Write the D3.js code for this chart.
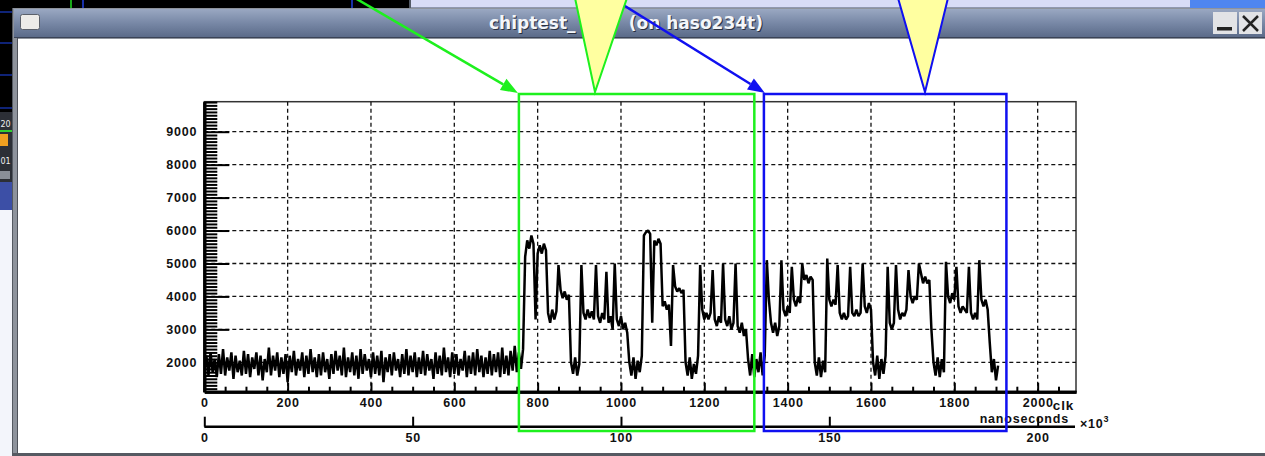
<!DOCTYPE html>
<html>
<head>
<meta charset="utf-8">
<script src="https://cdn.jsdelivr.net/npm/d3@7"></script>
<style>
  body { margin: 0; background: #fff; overflow: hidden; }
  .lbl { font-family: "Liberation Sans", Arial, Helvetica, sans-serif; font-weight: bold; font-size: 12.5px; letter-spacing: 0.8px; fill: #111; }
  .ttl { font-family: "DejaVu Sans", sans-serif; font-weight: bold; font-size: 17px; }
</style>
</head>
<body>
<svg id="plot" width="1265" height="456"></svg>
<script>
// ADC trace, one sample every 5 ns starting at t = 0
var sampleStep = 5;
var adc = [
  1850,2200,1600,2300,1700,2100,1550,2250,1650,2400,
  1600,2150,1750,2300,1500,2200,1700,2050,1600,2350,
  1650,2250,1550,2150,1800,2300,1600,2200,1450,2100,
  1700,2450,1600,2200,1750,2300,1550,2150,1650,2250,
  1400,2200,1700,2350,1600,2100,1750,2300,1550,2200,
  1650,2400,1700,2150,1550,2250,1600,2300,1700,2100,
  1500,2250,1650,2350,1750,2200,1600,2450,1550,2150,
  1700,2300,1600,2200,1500,2400,1650,2250,1750,2100,
  1550,2300,1650,2200,1600,2350,1400,2150,1700,2250,
  1600,2300,1750,2100,1550,2250,1650,2400,1600,2200,
  1700,2300,1550,2150,1650,2350,1600,2250,1750,2100,
  1500,2300,1650,2200,1600,2450,1700,2150,1550,2300,
  1650,2250,1600,2100,1750,2350,1550,2200,1650,2300,
  1600,2400,1700,2200,1550,2150,1650,2350,1600,2250,
  1700,2300,1550,2450,1650,2200,1600,2350,1750,2500,
  1700,
  2300,1800,2400,5200,5700,5450,5850,5600,3300,5300,
  5550,5300,5600,5400,3500,3200,3600,3300,3550,4950,
  4200,3950,4150,3900,4050,2000,1650,2150,1600,1950,
  4950,3500,3300,3600,3350,3550,3300,4950,3400,3200,
  3500,3300,4750,3200,3400,3000,5000,3300,3100,3400,
  3000,3200,2900,2000,1600,2150,1500,2050,1700,2200,
  5850,5950,6000,5900,3200,5700,5550,5750,5600,3700,
  3850,3600,3750,2500,4950,4300,4150,4250,4100,4200,
  2000,1600,2150,1500,1950,1650,2200,4950,3600,3300,
  3500,3300,3500,4800,3300,3100,3400,3200,5000,3300,
  3100,3400,3000,3200,5000,3100,2900,3200,2800,3000,
  2100,1600,2250,1550,2100,1700,2300,1600,2200,5100,
  3900,3200,2900,3200,2800,3100,5100,3600,3400,3700,
  3500,4900,3900,3700,4000,3800,5000,4500,4650,4400,
  4600,4500,2000,1600,2150,1550,2050,1700,5150,3900,
  3700,3900,3750,4950,3500,3300,3500,3300,3400,4900,
  3500,3400,3600,3400,3500,5000,3700,3500,3800,3600,
  2000,1600,2200,1500,2100,1650,2200,4900,3200,3000,
  3200,4950,3600,3300,3500,3400,3600,4800,4000,3800,
  4000,3900,5000,4700,4400,4600,4400,4500,3000,2000,
  1600,2150,1550,2100,1700,5050,4000,3800,4100,3900,
  4900,3700,3500,3700,3600,3500,4900,3500,3300,3500,
  3300,5100,3900,3700,3900,3600,2600,1700,2100,1450,
  1900
];
var yMajor = [2000, 3000, 4000, 5000, 6000, 7000, 8000, 9000];
var xMajor = [0, 200, 400, 600, 800, 1000, 1200, 1400, 1600, 1800, 2000];
var xSecond = [0, 50, 100, 150, 200];
// marked regions (ns)
var greenRange = [755, 1320];
var blueRange = [1343, 1925];

var svg = d3.select("#plot");

// ---- desktop behind the window ----
svg.append("rect").attr("x", 0).attr("y", 0).attr("width", 411).attr("height", 9).attr("fill", "#000");
svg.append("rect").attr("x", 411).attr("y", 0).attr("width", 779).attr("height", 9).attr("fill", "#d8dcf6");
svg.append("rect").attr("x", 1190).attr("y", 0).attr("width", 75).attr("height", 9).attr("fill", "#4f86f0");
svg.append("line").attr("x1", 411).attr("x2", 1190).attr("y1", 7.5).attr("y2", 7.5).attr("stroke", "#9098b0");
[[71, "#20e020"], [83, "#2040e0"], [352, "#2040e0"], [410, "#707888"]].forEach(function(v) {
  svg.append("line").attr("x1", v[0]).attr("x2", v[0]).attr("y1", 0).attr("y2", 8).attr("stroke", v[1]).attr("stroke-width", 1.5);
});

// left panel strip
svg.append("rect").attr("x", 0).attr("y", 0).attr("width", 12).attr("height", 112).attr("fill", "#000");
[12, 43, 75, 108].forEach(function(yy) {
  svg.append("line").attr("x1", 0).attr("x2", 12).attr("y1", yy).attr("y2", yy).attr("stroke", "#1a3cc8").attr("stroke-width", 1.2);
});
svg.append("rect").attr("x", 0).attr("y", 112).attr("width", 12).attr("height", 70).attr("fill", "#2c2f36");
svg.append("line").attr("x1", 0).attr("x2", 12).attr("y1", 131).attr("y2", 131).attr("stroke", "#30d030").attr("stroke-width", 2);
svg.append("rect").attr("x", 0).attr("y", 134).attr("width", 8).attr("height", 12).attr("fill", "#f0a020");
svg.append("rect").attr("x", 0).attr("y", 171).attr("width", 10).attr("height", 8).attr("fill", "#8a8f98");
svg.append("rect").attr("x", 0).attr("y", 182).attr("width", 12).attr("height", 28).attr("fill", "#3c4fa6");
svg.append("rect").attr("x", 0).attr("y", 210).attr("width", 12).attr("height", 246).attr("fill", "#f3f5fb");
svg.append("text").attr("x", 0.5).attr("y", 127)
  .attr("fill", "#eee").style("font-family", "DejaVu Sans").style("font-size", "8px").text("20");
svg.append("text").attr("x", 0.5).attr("y", 164)
  .attr("fill", "#eee").style("font-family", "DejaVu Sans").style("font-size", "8px").text("01");

// ---- window frame ----
svg.append("rect").attr("x", 12).attr("y", 8).attr("width", 1253).attr("height", 448).attr("fill", "#8e939c");
svg.append("line").attr("x1", 12.5).attr("x2", 12.5).attr("y1", 8).attr("y2", 456).attr("stroke", "#555a62");
var grad = svg.append("defs").append("linearGradient").attr("id", "tbar").attr("x1", 0).attr("x2", 0).attr("y1", 0).attr("y2", 1);
grad.append("stop").attr("offset", "0").attr("stop-color", "#9aa8c2");
grad.append("stop").attr("offset", "0.5").attr("stop-color", "#7888a6");
grad.append("stop").attr("offset", "1").attr("stop-color", "#5b6b89");
svg.append("rect").attr("x", 14).attr("y", 9).attr("width", 1251).attr("height", 28).attr("fill", "url(#tbar)");
svg.append("line").attr("x1", 14).attr("x2", 1265).attr("y1", 37.5).attr("y2", 37.5).attr("stroke", "#3a4356");
svg.append("rect").attr("x", 18).attr("y", 39).attr("width", 1247).attr("height", 414).attr("fill", "#fff");
svg.append("line").attr("x1", 17.5).attr("x2", 17.5).attr("y1", 38).attr("y2", 453).attr("stroke", "#4e525a");
svg.append("rect").attr("x", 12).attr("y", 453).attr("width", 1253).attr("height", 3).attr("fill", "#565a62");

// window icon and buttons
svg.append("rect").attr("x", 20.5).attr("y", 14.5).attr("width", 19).attr("height", 15).attr("rx", 2)
  .attr("fill", "#ecebe8").attr("stroke", "#5a606a");
svg.append("rect").attr("x", 1213).attr("y", 12).attr("width", 24).attr("height", 22).attr("fill", "#e2e3e6");
svg.append("rect").attr("x", 1217).attr("y", 27).attr("width", 15).attr("height", 3.5).attr("fill", "#222");
svg.append("rect").attr("x", 1239).attr("y", 12).attr("width", 23).attr("height", 22).attr("fill", "#e2e3e6");
svg.append("path").attr("d", "M1243,16 L1258,31 M1258,16 L1243,31").attr("stroke", "#222").attr("stroke-width", 2.5);

// title
[["chiptest_", 489, "start"], ["(on haso234t)", 763, "end"]].forEach(function(t) {
  svg.append("text").attr("class", "ttl").attr("x", t[1] + 1).attr("y", 30).attr("text-anchor", t[2]).attr("fill", "#2a3040").text(t[0]);
  svg.append("text").attr("class", "ttl").attr("x", t[1]).attr("y", 29).attr("text-anchor", t[2]).attr("fill", "#f4f6fa").text(t[0]);
});

// ---- plot ----
var x = d3.scaleLinear().domain([0, 2092]).range([204.3, 1076]);
var x2 = d3.scaleLinear().domain([0, 209.2]).range([204.3, 1076]);
var y = d3.scaleLinear().domain([1108, 9911]).range([391.7, 101.7]);

var L = x.range()[0], R = x.range()[1], T = y.range()[1], B = y.range()[0];

svg.append("rect").attr("x", L).attr("y", T).attr("width", R - L).attr("height", B - T)
  .attr("fill", "none").attr("stroke", "#333").attr("stroke-width", 1.5);

// grid
svg.append("g").selectAll("line").data(yMajor).enter().append("line")
  .attr("x1", L).attr("x2", R).attr("y1", function(d) { return y(d); }).attr("y2", function(d) { return y(d); })
  .attr("stroke", "#111").attr("stroke-width", 1.3).attr("stroke-dasharray", "4,3");
svg.append("g").selectAll("line").data(xMajor.filter(function(d) { return d > 0; })).enter().append("line")
  .attr("x1", function(d) { return x(d); }).attr("x2", function(d) { return x(d); }).attr("y1", T).attr("y2", B)
  .attr("stroke", "#111").attr("stroke-width", 1.3).attr("stroke-dasharray", "4,3");

// trace
svg.append("clipPath").attr("id", "frame").append("rect").attr("x", L).attr("y", T).attr("width", R - L).attr("height", B - T);
var line = d3.line()
  .x(function(d, i) { return x(i * sampleStep); })
  .y(function(d) { return y(d); });
svg.append("path").datum(adc).attr("d", line).attr("clip-path", "url(#frame)")
  .attr("fill", "none").attr("stroke", "#000").attr("stroke-width", 2.5).attr("stroke-linejoin", "bevel");

// y axis
var yMinor = d3.range(1200, 9901, 100).filter(function(d) { return d % 1000 != 0; });
var gy2 = svg.append("g").attr("transform", "translate(" + L + ",0)")
  .call(d3.axisLeft(y).tickValues(yMinor).tickSize(-13).tickSizeOuter(0).tickFormat(""));
var gy = svg.append("g").attr("transform", "translate(" + L + ",0)")
  .call(d3.axisLeft(y).tickValues(yMajor).tickSize(-25).tickSizeOuter(0).tickPadding(7).tickFormat(d3.format("d")));

// x axis
var xMinor = d3.range(50, 2092, 50).filter(function(d) { return d % 200 != 0; });
var gx2 = svg.append("g").attr("transform", "translate(0," + B + ")")
  .call(d3.axisBottom(x).tickValues(xMinor).tickSize(-5).tickSizeOuter(0).tickFormat(""));
var gx = svg.append("g").attr("transform", "translate(0," + B + ")")
  .call(d3.axisBottom(x).tickValues(xMajor).tickSize(-9).tickSizeOuter(0).tickPadding(6).tickFormat(d3.format("d")));

// secondary axis (x 10^3)
var gs = svg.append("g").attr("transform", "translate(0,426.7)")
  .call(d3.axisBottom(x2).tickValues(xSecond).tickSize(-10).tickSizeOuter(0).tickPadding(6).tickFormat(d3.format("d")));
gs.select(".domain").attr("d", "M" + L + ",0H" + (R - 1));

[gy, gy2, gx, gx2, gs].forEach(function(g) {
  g.select(".domain").attr("stroke", "#000").attr("stroke-width", 3);
  g.selectAll(".tick line").attr("stroke", "#000").attr("stroke-width", 2);
  g.selectAll("text").attr("class", "lbl").attr("fill", "#111");
});
gs.select(".domain").attr("stroke-width", 2.5);

svg.append("text").attr("class", "lbl").attr("x", 1074).attr("y", 410).attr("text-anchor", "end").style("font-size", "13.5px").text("clk");
svg.append("text").attr("class", "lbl").attr("x", 1069).attr("y", 422.5).attr("text-anchor", "end").text("nanoseconds");
var exp = svg.append("text").attr("class", "lbl").attr("x", 1080).attr("y", 428);
exp.append("tspan").text("×10");
exp.append("tspan").attr("dy", -6).style("font-size", "9px").text("3");

// ---- annotations ----
var gTop = 94, gBot = 431;
function box(r, col) {
  svg.append("rect").attr("x", x(r[0])).attr("y", gTop).attr("width", x(r[1]) - x(r[0])).attr("height", gBot - gTop)
    .attr("fill", "none").attr("stroke", col).attr("stroke-width", 2.5);
}
function arrow(x0, y0, x1, y1, col) {
  var dx = x1 - x0, dy = y1 - y0, len = Math.sqrt(dx * dx + dy * dy);
  var ux = dx / len, uy = dy / len, bx = x1 - 17 * ux, by = y1 - 17 * uy;
  svg.append("line").attr("x1", x0).attr("y1", y0).attr("x2", bx).attr("y2", by).attr("stroke", col).attr("stroke-width", 2.5);
  svg.append("polygon").attr("points", [[x1, y1], [bx - 6.5 * uy, by + 6.5 * ux], [bx + 6.5 * uy, by - 6.5 * ux]].join(" ")).attr("fill", col);
}
function marker(xa, xb, xt, col) {
  svg.append("polygon").attr("points", [[xa, -2], [xb, -2], [xt, gTop - 2]].join(" "))
    .attr("fill", "#ffffa0").attr("stroke", col).attr("stroke-width", 2);
}
box(greenRange, "#1ef01e");
box(blueRange, "#1010f0");
arrow(355, -2, x(greenRange[0]) - 1, gTop - 1, "#1ef01e");
arrow(612, -2, x(blueRange[0]) + 1, gTop - 1, "#1010f0");
marker(575, 627, 595, "#1ef01e");
marker(898, 948, 925, "#1010f0");
</script>
</body>
</html>
